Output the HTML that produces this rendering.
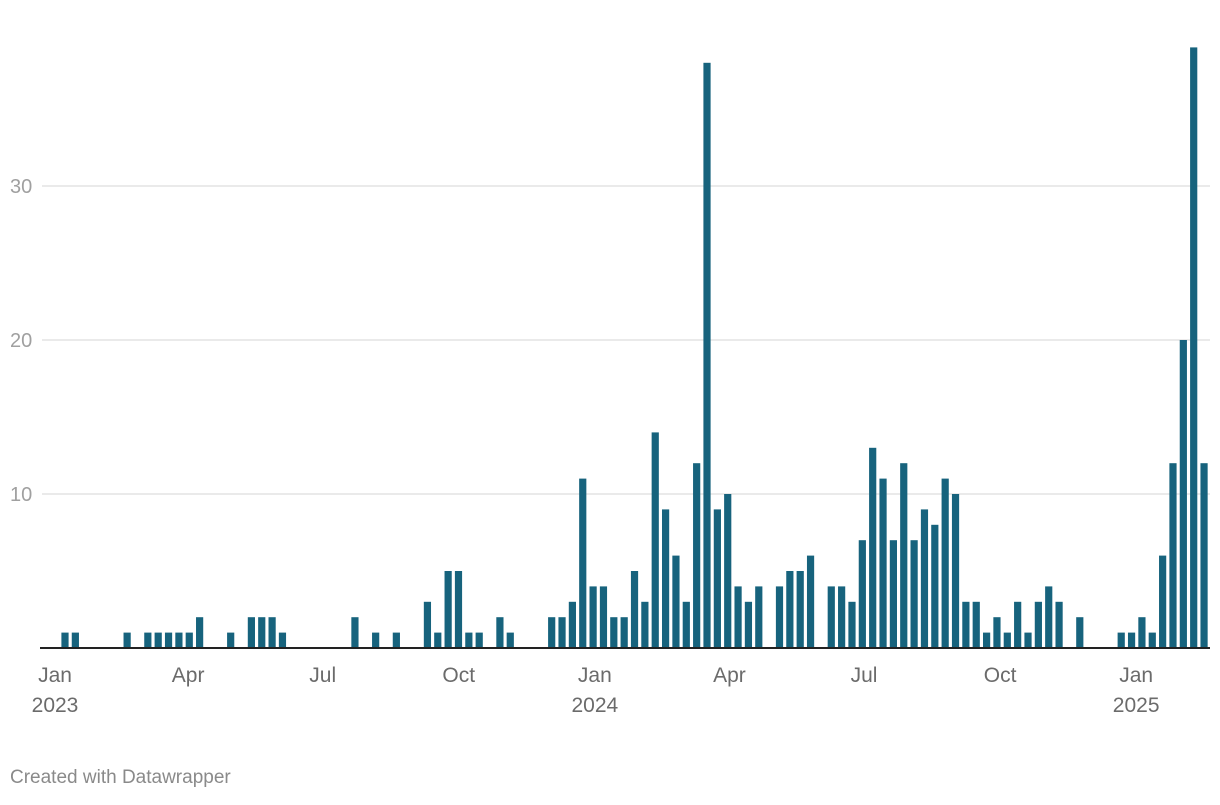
<!DOCTYPE html>
<html><head><meta charset="utf-8"><style>
body{margin:0;background:#fff;width:1220px;height:800px;overflow:hidden;font-family:"Liberation Sans",sans-serif}
svg text{font-family:"Liberation Sans",sans-serif}
</style></head><body>
<svg id="chart" width="1220" height="800" viewBox="0 0 1220 800">
<g id="grid"></g><g id="bars"></g><g id="xaxis"></g>
<text x="10" y="783" font-size="19" fill="#8a8a8a">Created with Datawrapper</text>
</svg>
<script>
const values=[1,1,0,0,0,0,1,0,1,1,1,1,1,2,0,0,1,0,2,2,2,1,0,0,0,0,0,0,2,0,1,0,1,0,0,3,1,5,5,1,1,0,2,1,0,0,0,2,2,3,11,4,4,2,2,5,3,14,9,6,3,12,38,9,10,4,3,4,0,4,5,5,6,0,4,4,3,7,13,11,7,12,7,9,8,11,10,3,3,1,2,1,3,1,3,4,3,0,2,0,0,0,1,1,2,1,6,12,20,39,12];
const yTicks=[10,20,30];
const xTickLabels=["Jan","Apr","Jul","Oct","Jan","Apr","Jul","Oct","Jan"];
const xTickYears=["2023","","","","2024","","","","2025"];
const xTickDays=[0,90,181,273,365,456,547,639,731];
const NS='http://www.w3.org/2000/svg';
const y0=648,pxPerUnit=15.4;
function yS(v){return y0-v*pxPerUnit;}
function xBar(i){return 65+i*10.355;}
function xDay(d){return 55+d*1.479;}
const grid=document.getElementById('grid');
yTicks.forEach(t=>{
 const l=document.createElementNS(NS,'line');
 
 
 l.setAttribute('x1',42);l.setAttribute('x2',1210);l.setAttribute('y1',yS(t));l.setAttribute('y2',yS(t));
 l.setAttribute('stroke','#e3e3e3');l.setAttribute('stroke-width','1.5');grid.appendChild(l);
 const tx=document.createElementNS(NS,'text');
 
 
 tx.setAttribute('x',10);tx.setAttribute('y',yS(t)+7);tx.setAttribute('font-size','20');tx.setAttribute('fill','#a0a0a0');
 tx.textContent=t;grid.appendChild(tx);
});
const bars=document.getElementById('bars');
values.forEach((v,i)=>{
 if(v<=0)return;
 const r=document.createElementNS(NS,'rect');
 
 
 r.setAttribute('x',xBar(i)-3.6);r.setAttribute('width',7.2);
 r.setAttribute('y',yS(v));r.setAttribute('height',v*pxPerUnit);
 r.setAttribute('fill','#17637d');bars.appendChild(r);
});
const xa=document.getElementById('xaxis');
const base=document.createElementNS(NS,'line');


base.setAttribute('x1',40);base.setAttribute('x2',1210);base.setAttribute('y1',y0);base.setAttribute('y2',y0);
base.setAttribute('stroke','#222');base.setAttribute('stroke-width','2');xa.appendChild(base);
xTickLabels.forEach((lab,k)=>{
 const x=xDay(xTickDays[k]);
 const t=document.createElementNS(NS,'text');
 
 
 t.setAttribute('x',x);t.setAttribute('y',682);t.setAttribute('text-anchor','middle');
 t.setAttribute('font-size','21');t.setAttribute('fill','#6b6b6b');t.textContent=lab;xa.appendChild(t);
 if(xTickYears[k]){
  const t2=document.createElementNS(NS,'text');
  
  
  t2.setAttribute('x',x);t2.setAttribute('y',712);t2.setAttribute('text-anchor','middle');
  t2.setAttribute('font-size','21');t2.setAttribute('fill','#6b6b6b');t2.textContent=xTickYears[k];xa.appendChild(t2);
 }
});
</script>
</body></html>
